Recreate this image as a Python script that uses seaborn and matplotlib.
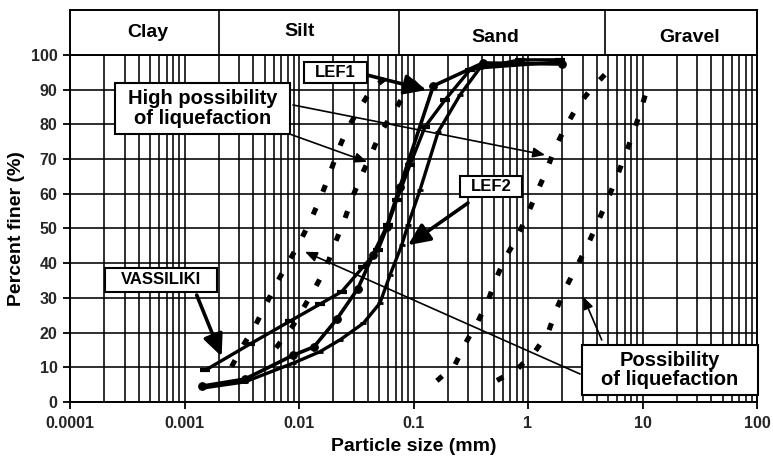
import numpy as np
import pandas as pd
import matplotlib
matplotlib.use("Agg")
import matplotlib.pyplot as plt
from matplotlib.patches import Rectangle
import seaborn as sns
from matplotlib.ticker import LogLocator, NullFormatter

# ---------------- data ----------------
zone_names = ["Clay", "Silt", "Sand", "Gravel"]
zone_bounds = [0.002, 0.075, 4.75]
zone_label_x = [0.00048, 0.0102, 0.515, 26.0]
zone_label_y = [0.49, 0.53, 0.38, 0.40]

x_ticks = [0.0001, 0.001, 0.01, 0.1, 1, 10, 100]
x_tick_labels = ["0.0001", "0.001", "0.01", "0.1", "1", "10", "100"]
y_ticks = [0, 10, 20, 30, 40, 50, 60, 70, 80, 90, 100]

# boundary curves: high possibility of liquefaction
hp_left_x = [0.00258, 0.00322, 0.00413, 0.00522, 0.00646, 0.00813, 0.0102, 0.01265,
             0.01556, 0.0184, 0.0218, 0.0261, 0.0330, 0.0432, 0.0624]
hp_left_y = [10.2, 16.1, 21.9, 28.5, 34.6, 40.4, 46.2, 52.4, 59.2, 65.4, 72.3, 78.4,
             84.1, 90.2, 94.4]
hp_right_x = [0.00630, 0.00873, 0.01107, 0.0140, 0.01746, 0.0209, 0.0249, 0.0294,
              0.0353, 0.0432, 0.0520, 0.0676, 0.0859, 0.126]
hp_right_y = [15.6, 21.7, 27.4, 33.2, 39.2, 46.2, 52.4, 59.2, 65.4, 71.8, 77.9, 83.7,
              89.4, 94.2]
# boundary curves: possibility of liquefaction
p_left_x = [0.160, 0.230, 0.282, 0.361, 0.445, 0.523, 0.638, 0.807, 0.986, 1.19, 1.44,
            1.70, 2.10, 2.66, 3.60, 4.87]
p_left_y = [6.1, 10.7, 16.7, 22.9, 28.9, 35.4, 41.7, 47.6, 53.9, 60.3, 66.4, 72.8, 78.9,
            84.9, 90.4, 94.9]
p_right_x = [0.536, 0.807, 1.15, 1.50, 1.76, 2.15, 2.66, 3.30, 4.03, 4.87, 5.83, 6.93,
             8.20, 9.51, 11.0]
p_right_y = [6.2, 9.5, 14.5, 20.0, 26.5, 33.1, 39.0, 45.0, 51.5, 57.7, 64.0, 70.5, 76.9,
             83.4, 90.4]

# grading curves
lef1_x = [0.001435, 0.00337, 0.00891, 0.01352, 0.0213, 0.0327, 0.0442, 0.0583, 0.0762,
          0.149, 0.404, 1.97]
lef1_y = [4.6, 6.6, 13.5, 15.9, 23.8, 32.7, 42.4, 50.5, 62.0, 91.1, 97.7, 97.4]
lef2_x = [0.00142, 0.00337, 0.00891, 0.01524, 0.0228, 0.0365, 0.0509, 0.0624, 0.0789,
          0.0895, 0.114, 0.164, 0.255, 0.381, 1.90]
lef2_y = [4.0, 5.8, 11.2, 14.5, 17.9, 22.7, 28.5, 36.6, 45.2, 51.0, 61.1, 77.8, 88.5,
          96.3, 98.0]
vas_x = [0.00151, 0.00373, 0.00834, 0.01524, 0.0236, 0.0362, 0.0490, 0.0598, 0.0713,
         0.0931, 0.126, 0.188, 0.311, 0.851, 1.90]
vas_y = [9.1, 16.7, 23.3, 28.2, 31.8, 38.9, 43.8, 51.0, 58.2, 68.3, 79.3, 87.0, 95.7,
         98.6, 98.6]

# ---------------- style ----------------
sns.set_theme(style="white")
plt.rcParams["font.family"] = ["Liberation Sans", "DejaVu Sans"]
plt.rcParams["font.weight"] = "bold"

W, H = 773, 462
fig = plt.figure(figsize=(W / 100, H / 100), dpi=100)
fig.patch.set_facecolor("white")

axL, axR, axT, axB = 70, 757, 55, 402
hdrT = 10
ax = fig.add_axes([axL / W, 1 - axB / H, (axR - axL) / W, (axB - axT) / H])
hax = fig.add_axes([axL / W, 1 - axT / H, (axR - axL) / W, (axT - hdrT) / H])

# ---------------- main axes ----------------
ax.set_xscale("log")
ax.set_xlim(1e-4, 100)
ax.set_ylim(0, 100)
ax.xaxis.set_minor_locator(LogLocator(base=10, subs=np.arange(2, 10)))
ax.xaxis.set_minor_formatter(NullFormatter())
ax.set_xticks(x_ticks, labels=x_tick_labels)
ax.set_yticks(y_ticks)
ax.grid(True, which="both", color="black", lw=1.15)
ax.set_axisbelow(True)
ax.tick_params(axis="x", which="major", length=5, width=1.3, color="black",
               labelsize=11.5, pad=5, bottom=True)
ax.tick_params(axis="x", which="minor", length=0)
ax.tick_params(axis="y", which="major", length=5, width=1.3, color="black",
               labelsize=11.5, pad=4, left=True)
for lab in ax.get_xticklabels() + ax.get_yticklabels():
    lab.set_fontweight("bold")
for s in ax.spines.values():
    s.set_color("black")
    s.set_linewidth(1.4)

ax.set_xlabel("Particle size (mm)", fontsize=14, fontweight="bold", color="black")
ax.set_ylabel("Percent finer (%)", fontsize=14, fontweight="bold", color="black")
ax.xaxis.set_label_coords(0.5, -0.105)
ax.yaxis.set_label_coords(-0.066, 0.5)

dash = (0, (1.4, 3.4))
for bx, by in [(hp_left_x, hp_left_y), (hp_right_x, hp_right_y),
               (p_left_x, p_left_y), (p_right_x, p_right_y)]:
    sns.lineplot(x=bx, y=by, ax=ax, color="black", lw=3.7, linestyle=dash,
                 estimator=None, sort=False, zorder=3)

sns.lineplot(x=vas_x, y=vas_y, ax=ax, color="black", lw=2.4, estimator=None, sort=False,
             marker="_", markersize=7, markeredgewidth=3, markeredgecolor="black",
             zorder=4)
sns.lineplot(x=lef2_x, y=lef2_y, ax=ax, color="black", lw=2.4, estimator=None, sort=False,
             marker="_", markersize=5, markeredgewidth=2, markeredgecolor="black",
             zorder=4)
sns.lineplot(x=lef1_x, y=lef1_y, ax=ax, color="black", lw=2.6, estimator=None, sort=False,
             marker="o", markersize=5.5, markeredgecolor="black", markerfacecolor="black",
             zorder=5)

# ---------------- annotations ----------------
big = dict(arrowstyle="-|>,head_length=1.1,head_width=0.5", lw=2.6, color="black",
           shrinkA=0, shrinkB=0)
thin = dict(arrowstyle="-|>,head_length=0.6,head_width=0.25", lw=1.2, color="black",
            shrinkA=0, shrinkB=0)


def arrow(start, tip, style):
    ax.annotate("", xy=tip, xycoords="data", xytext=start, textcoords="axes fraction",
                arrowprops=style, zorder=6)


arrow((0.4323, 0.9424), (0.130, 89.9), big)
arrow((0.3246, 0.856), (1.41, 71.2), thin)
arrow((0.3202, 0.772), (0.0393, 69.2), thin)
arrow((0.5793, 0.5735), (0.0895, 45.2), big)
arrow((0.1844, 0.3084), (0.00211, 13.1), big)
arrow((0.7424, 0.0807), (0.01127, 43.3), thin)
arrow((0.774, 0.1787), (3.04, 30.3), thin)


def label(x0, y0, x1, y1, txt, fs):
    ax.add_patch(Rectangle((x0, y0), x1 - x0, y1 - y0, transform=ax.transAxes,
                           fc="white", ec="black", lw=1.5, zorder=7, clip_on=False))
    ax.text((x0 + x1) / 2, (y0 + y1) / 2, txt, transform=ax.transAxes, ha="center",
            va="center", fontsize=fs, fontweight="bold", color="black", zorder=8,
            linespacing=1.05, multialignment="center")


label(0.3411, 0.9184, 0.4319, 0.9807, "LEF1", 12)
label(0.0655, 0.7723, 0.3202, 0.9202, "High possibility\nof liquefaction", 14.5)
label(0.5677, 0.5916, 0.6575, 0.6513, "LEF2", 12)
label(0.0510, 0.3179, 0.2136, 0.3853, "VASSILIKI", 12)
label(0.7448, 0.0202, 1.0010, 0.1643, "Possibility\nof liquefaction", 14.5)

# ---------------- header ----------------
hax.set_xscale("log")
hax.set_xlim(1e-4, 100)
hax.set_ylim(0, 1)
hax.set_xticks([])
hax.set_yticks([])
hax.xaxis.set_minor_locator(LogLocator(base=10, subs=[]))
hax.tick_params(which="both", length=0, labelbottom=False, labelleft=False)
hax.set_facecolor("white")
for s in hax.spines.values():
    s.set_color("black")
    s.set_linewidth(1.4)
hax.vlines(zone_bounds, 0, 1, color="black", lw=1.2)
for nm, lx, ly in zip(zone_names, zone_label_x, zone_label_y):
    hax.text(lx, ly, nm, ha="center", va="center", fontsize=14, fontweight="bold",
             color="black", transform=hax.get_xaxis_transform())

fig.savefig("out.png", dpi=100, facecolor="white")
